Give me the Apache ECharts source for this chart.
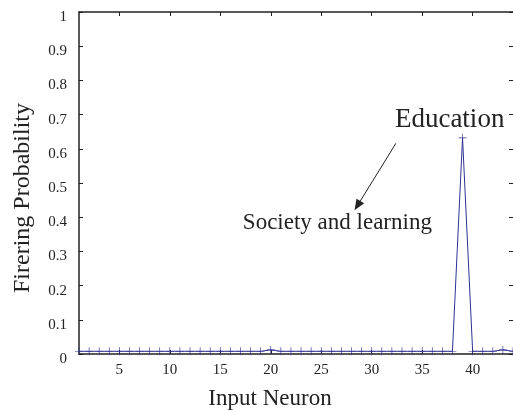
<!DOCTYPE html>
<html>
<head>
<meta charset="utf-8">
<script src="https://cdn.jsdelivr.net/npm/echarts@6/dist/echarts.min.js"></script>
<style>html,body{margin:0;padding:0;background:#fff}#c{width:513px;height:410px}</style>
</head>
<body>
<div id="c"></div>
<script>
const neurons = Array.from({length: 44}, (_, i) => i + 1);
const probs = [0.008,0.008,0.008,0.008,0.008,0.008,0.008,0.008,0.008,0.008,
               0.008,0.008,0.008,0.008,0.008,0.008,0.008,0.008,0.008,0.012,
               0.008,0.008,0.008,0.008,0.008,0.008,0.008,0.008,0.008,0.008,
               0.008,0.008,0.008,0.008,0.008,0.008,0.008,0.008,0.632,0.008,
               0.008,0.008,0.012,0.008];
const xTicks = [5,10,15,20,25,30,35,40];
const annotations = [
  {text: 'Education', x: 32.3, y: 0.684, size: 27, align: 'left'},
  {text: 'Society and learning', x: 26.6, y: 0.382, size: 23, align: 'center'}
];
const arrow = {from: [32.4, 0.616], to: [28.3, 0.42]};

const font = 'Liberation Serif';
const chart = echarts.init(document.getElementById('c'), null, {renderer: 'canvas'});
const axisLine = {show: true, onZero: false, lineStyle: {color: '#222', width: 1.5}};
const tickStyle = {color: '#222', width: 1};
chart.setOption({
  animation: false,
  textStyle: {fontFamily: font},
  grid: {left: 79, right: 0, top: 12, bottom: 56, containLabel: false, outerBoundsMode: 'none'},
  xAxis: [{
    type: 'value', min: 1, max: 44, position: 'bottom',
    axisLine: axisLine,
    axisTick: {show: true, inside: true, length: 4, customValues: xTicks, lineStyle: tickStyle},
    axisLabel: {customValues: xTicks, color: '#222', fontFamily: font, fontSize: 15, margin: 9},
    splitLine: {show: false},
    name: 'Input Neuron', nameLocation: 'middle', nameGap: 33,
    nameTextStyle: {fontFamily: font, fontSize: 23, color: '#222', padding: [0, 52, 0, 0]}
  }, {
    type: 'value', min: 1, max: 44, position: 'top',
    axisLine: axisLine,
    axisTick: {show: true, inside: true, length: 4, customValues: xTicks, lineStyle: tickStyle},
    axisLabel: {show: false}, splitLine: {show: false}
  }],
  yAxis: [{
    type: 'value', min: 0, max: 1, interval: 0.1, position: 'left',
    axisLine: axisLine,
    axisTick: {show: true, inside: true, length: 4, lineStyle: tickStyle},
    axisLabel: {color: '#222', fontFamily: font, fontSize: 15, margin: 12, verticalAlign: 'top', lineHeight: 10},
    splitLine: {show: false},
    name: 'Firering Probability', nameLocation: 'middle', nameGap: 44, nameRotate: 90,
    nameTextStyle: {fontFamily: font, fontSize: 24, color: '#222', padding: [0, 30, 0, 0]}
  }, {
    type: 'value', min: 0, max: 1, interval: 0.1, position: 'right',
    axisLine: {show: false},
    axisTick: {show: true, inside: true, length: 4, lineStyle: tickStyle},
    axisLabel: {show: false}, splitLine: {show: false}
  }],
  series: [{
    type: 'line',
    data: neurons.map((n, i) => [n, probs[i]]),
    symbol: 'path://M-0.08,-1H0.08V1H-0.08Z M-1,-0.08H1V0.08H-1Z',
    symbolSize: 8,
    showAllSymbol: true,
    lineStyle: {color: '#2e3192', width: 1},
    itemStyle: {color: '#2e3192'},
    clip: false
  }]
});

function renderAnnotations() {
  const g = [];
  annotations.forEach(a => {
    const p = chart.convertToPixel({xAxisIndex: 0, yAxisIndex: 0}, [a.x, a.y]);
    g.push({type: 'text', x: p[0], y: p[1], style: {text: a.text, fontFamily: font, fontSize: a.size, fill: '#222', textVerticalAlign: 'middle', textAlign: a.align}});
  });
  const p1 = chart.convertToPixel({xAxisIndex: 0, yAxisIndex: 0}, arrow.from);
  const p2 = chart.convertToPixel({xAxisIndex: 0, yAxisIndex: 0}, arrow.to);
  const ang = Math.atan2(p2[1] - p1[1], p2[0] - p1[0]);
  const L = 11, W = 4.5;
  const bx = p2[0] - L * Math.cos(ang), by = p2[1] - L * Math.sin(ang);
  g.push({type: 'line', shape: {x1: p1[0], y1: p1[1], x2: bx, y2: by}, style: {stroke: '#222', lineWidth: 1}});
  g.push({type: 'polygon', shape: {points: [
    [p2[0], p2[1]],
    [bx + W * Math.sin(ang), by - W * Math.cos(ang)],
    [bx - W * Math.sin(ang), by + W * Math.cos(ang)]
  ]}, style: {fill: '#222'}});
  chart.setOption({graphic: g});
}
renderAnnotations();
</script>
</body>
</html>
